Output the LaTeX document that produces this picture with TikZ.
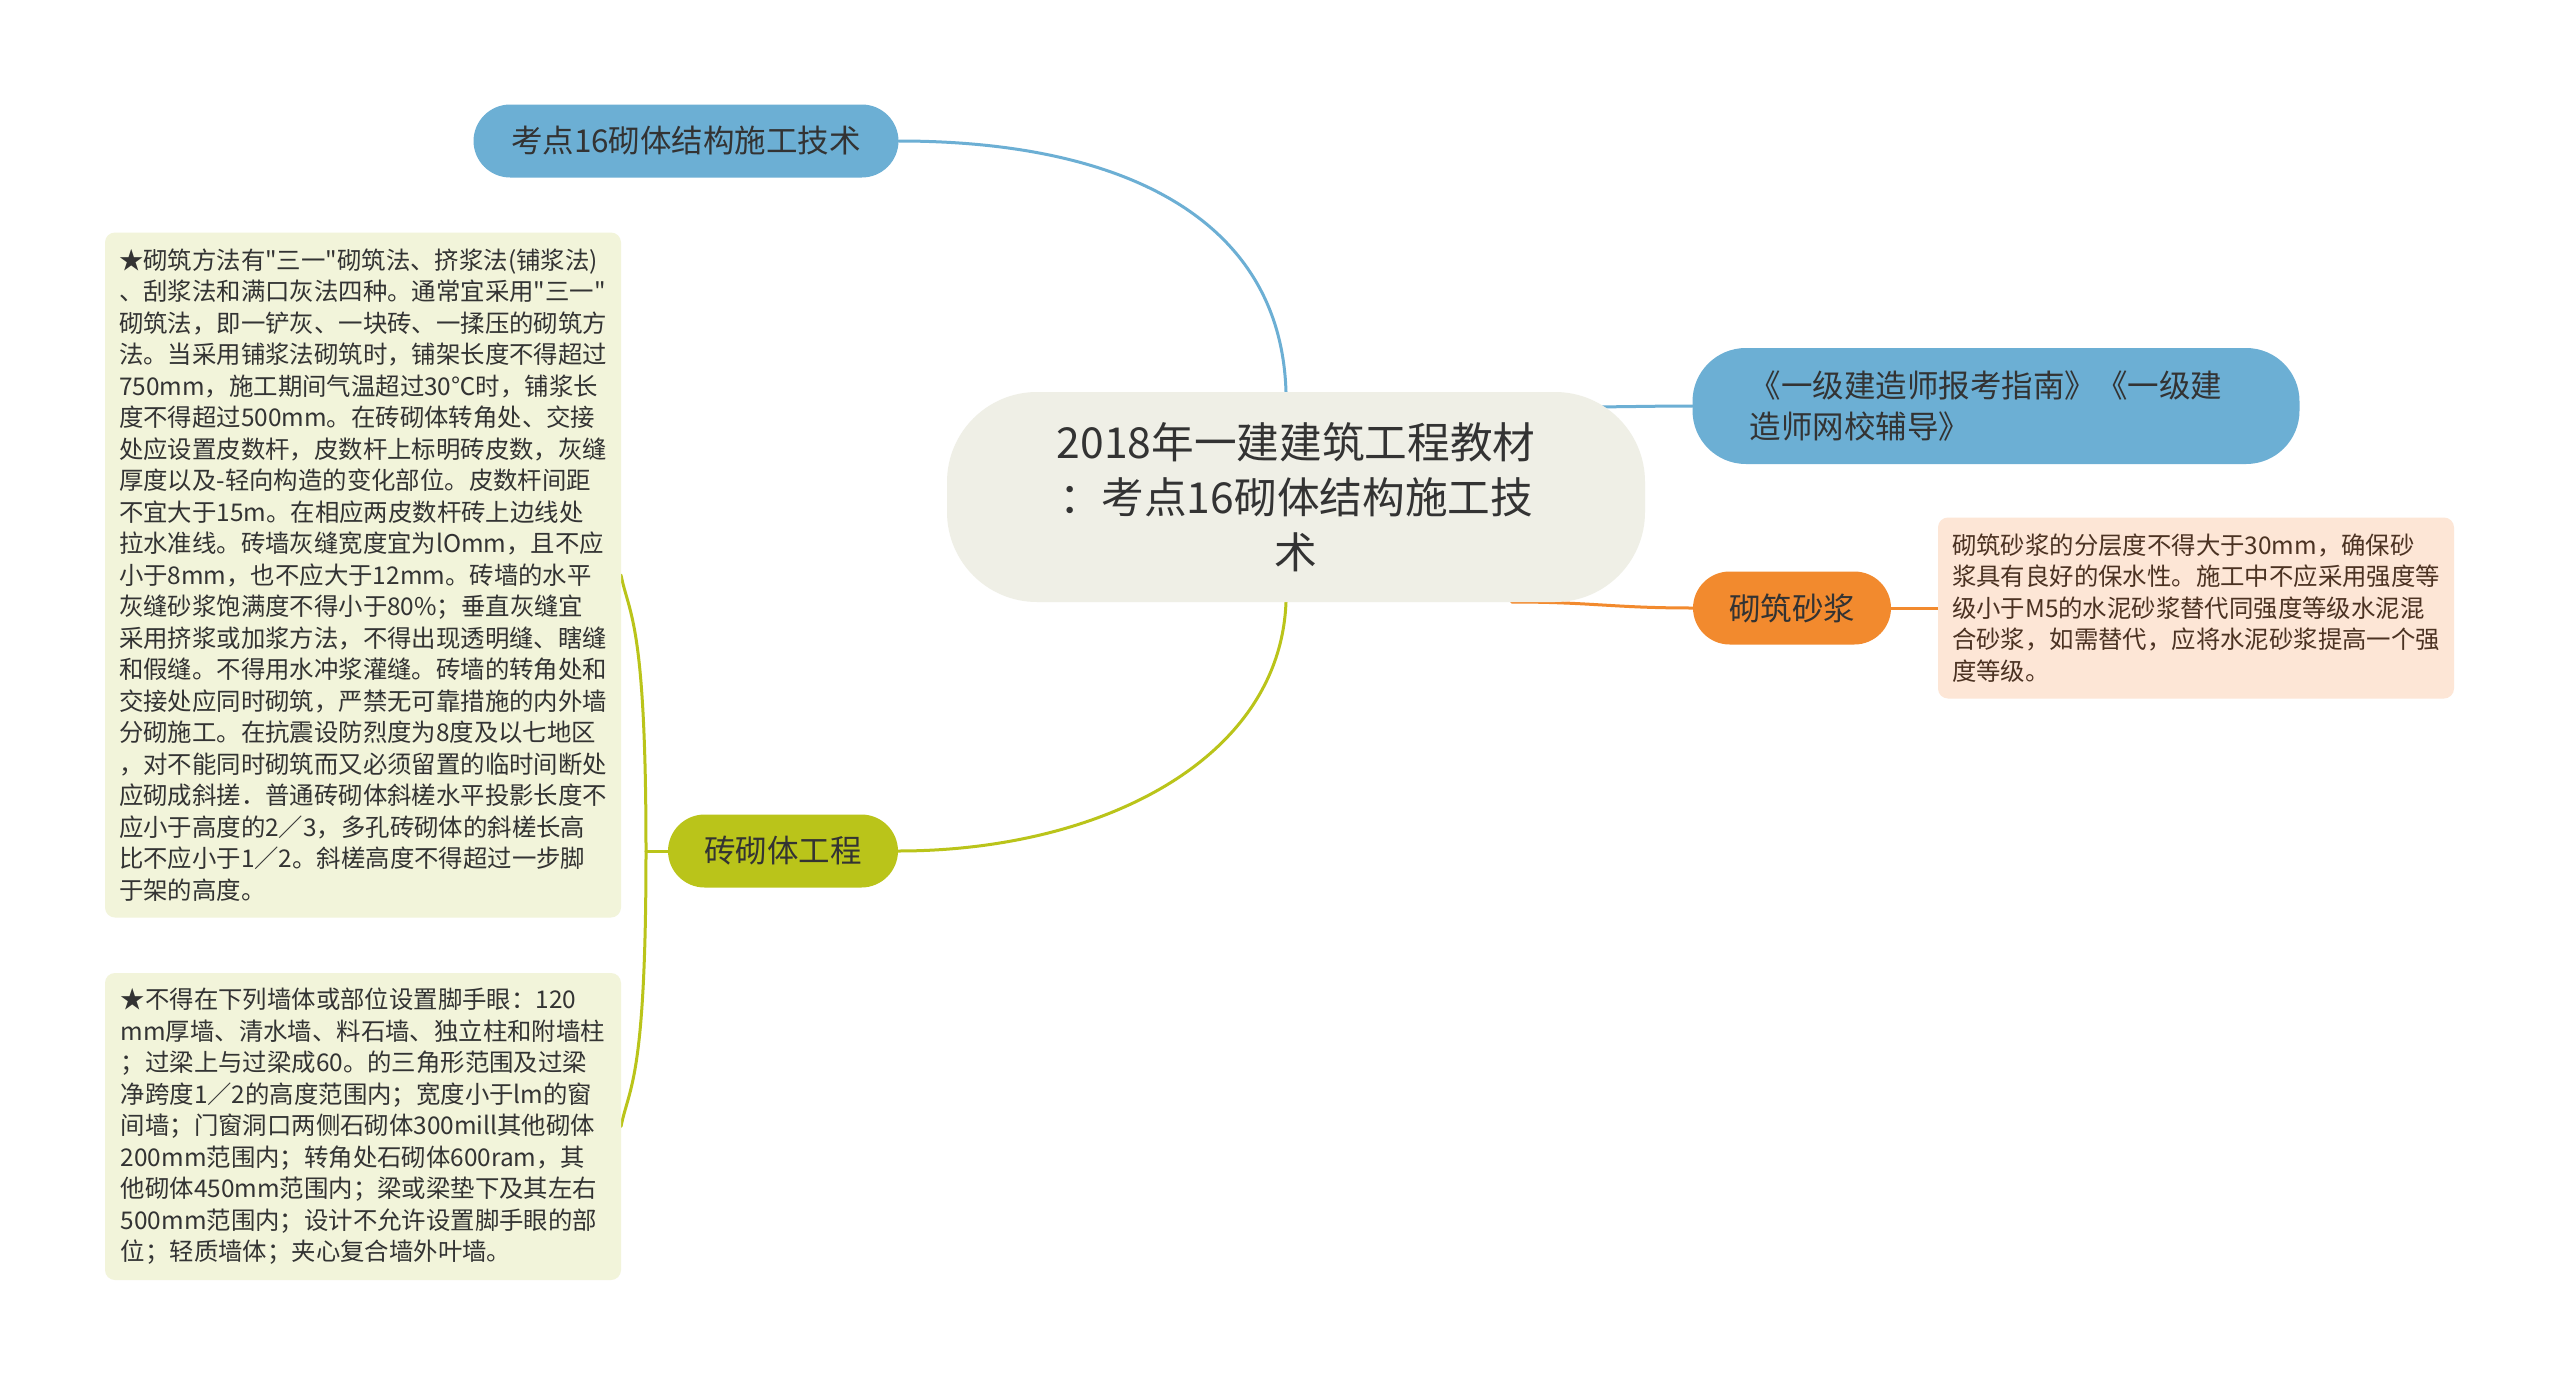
\documentclass[tikz,border=0pt]{standalone}
\usepackage{fontspec}
\newfontfamily\cjk{Noto Sans CJK SC}
\usetikzlibrary{backgrounds}

\definecolor{c6cafd4}{RGB}{108,175,212}
\definecolor{cbac41a}{RGB}{186,196,26}
\definecolor{cf28a2e}{RGB}{242,138,46}
\definecolor{cefefe6}{RGB}{239,239,230}
\definecolor{cf2f4da}{RGB}{242,244,218}
\definecolor{cfde6d6}{RGB}{253,230,214}
\definecolor{c333333}{RGB}{51,51,51}
\definecolor{c4b3222}{RGB}{75,50,34}

\begin{document}
\begin{tikzpicture}[y=0.30pt, x=0.30pt, yscale=-1, inner sep=0pt, outer sep=0pt,
  topicbox/.style={fill=#1, text=c333333, rounded corners=11pt,
    minimum height=21.9pt, font=\cjk\fontsize{9.45}{12.3}\selectfont},
  notebox/.style={fill=#1, rounded corners=3pt, align=left,
    minimum width=154.8pt, font=\cjk\fontsize{7.32}{9.45}\selectfont},
  branch/.style={draw=#1, line width=0.9pt, line cap=round}]
\begin{pgfonlayer}{background}
  \path[fill=white] (0,0) rectangle (2560,1387);
\end{pgfonlayer}
\useasboundingbox (0,0) rectangle (2560,1387);

  \path (1296,497) node[fill=cefefe6, text=c333333, rounded corners=27pt,
    minimum width=209.4pt, minimum height=63pt, align=center,
    font=\cjk\fontsize{12.8}{16.5}\selectfont] (root)
    {2018年一建建筑工程教材\\：考点16砌体结构施工技\\术};
  \path (686,141) node[topicbox=c6cafd4, minimum width=127.5pt] (topic16)
    {考点16砌体结构施工技术};
  \path (1996,406) node[topicbox=c6cafd4, rounded corners=16pt,
    minimum height=34.8pt, text width=147.9pt, inner xsep=17.1pt,
    align=left] (guide) {《一级建造师报考指南》《一级建\\造师网校辅导》};
  \path (1792,608) node[topicbox=cf28a2e, minimum width=59.4pt] (mortar)
    {砌筑砂浆};
  \path (2196,608) node[notebox=cfde6d6, text=c4b3222, minimum height=54.3pt]
    (mortarnote) {砌筑砂浆的分层度不得大于30mm，确保砂\\
    浆具有良好的保水性。施工中不应采用强度等\\
    级小于M5的水泥砂浆替代同强度等级水泥混\\
    合砂浆，如需替代，应将水泥砂浆提高一个强\\
    度等级。};
  \path (783,851) node[topicbox=cbac41a, minimum width=69pt] (brick)
    {砖砌体工程};
  \path (363,575) node[notebox=cf2f4da, text=c333333, minimum height=205.5pt]
    (bricknote1) {★砌筑方法有"三一"砌筑法、挤浆法(铺浆法)\\
    、刮浆法和满口灰法四种。通常宜采用"三一"\\
    砌筑法，即一铲灰、一块砖、一揉压的砌筑方\\
    法。当采用铺浆法砌筑时，铺架长度不得超过\\
    750mm，施工期间气温超过30℃时，铺浆长\\
    度不得超过500mm。在砖砌体转角处、交接\\
    处应设置皮数杆，皮数杆上标明砖皮数，灰缝\\
    厚度以及-轻向构造的变化部位。皮数杆间距\\
    不宜大于15m。在相应两皮数杆砖上边线处\\
    拉水准线。砖墙灰缝宽度宜为lOmm，且不应\\
    小于8mm，也不应大于12mm。砖墙的水平\\
    灰缝砂浆饱满度不得小于80\%；垂直灰缝宜\\
    采用挤浆或加浆方法，不得出现透明缝、瞎缝\\
    和假缝。不得用水冲浆灌缝。砖墙的转角处和\\
    交接处应同时砌筑，严禁无可靠措施的内外墙\\
    分砌施工。在抗震设防烈度为8度及以七地区\\
    ，对不能同时砌筑而又必须留置的临时间断处\\
    应砌成斜搓．普通砖砌体斜槎水平投影长度不\\
    应小于高度的2／3，多孔砖砌体的斜槎长高\\
    比不应小于1／2。斜槎高度不得超过一步脚\\
    于架的高度。};
  \path (363,1126.5) node[notebox=cf2f4da, text=c333333, minimum height=92.1pt]
    (bricknote2) {★不得在下列墙体或部位设置脚手眼：120\\
    mm厚墙、清水墙、料石墙、独立柱和附墙柱\\
    ；过梁上与过梁成60。的三角形范围及过梁\\
    净跨度1／2的高度范围内；宽度小于lm的窗\\
    间墙；门窗洞口两侧石砌体300mill其他砌体\\
    200mm范围内；转角处石砌体600ram，其\\
    他砌体450mm范围内；梁或梁垫下及其左右\\
    500mm范围内；设计不允许设置脚手眼的部\\
    位；轻质墙体；夹心复合墙外叶墙。};

\begin{pgfonlayer}{background}
  \draw[branch=c6cafd4] (topic16.east) .. controls +(230,0) and +(-5,-170) ..
    ([xshift=-3pt]root.north);
  \draw[branch=c6cafd4] ([xshift=-20pt,yshift=4.5pt]root.north east) ..
    controls +(40,0) and +(-40,0) .. (guide.west);
  \draw[branch=cf28a2e] ([xshift=-40pt]root.south east) ..
    controls +(80,0) and +(-80,0) .. (mortar.west);
  \draw[branch=cf28a2e] (mortar.east) -- (mortarnote.west);
  \draw[branch=cbac41a] ([xshift=-3pt]root.south) .. controls +(-6,158) and
    +(202,0) .. (brick.east);
  \draw[branch=cbac41a] (brick.west) -- ++(-22,0) coordinate (brickfork);
  \draw[branch=cbac41a] (brickfork) .. controls +(0,-230) and +(8,40) ..
    (bricknote1.east);
  \draw[branch=cbac41a] (brickfork) .. controls +(0,230) and +(8,-40) ..
    (bricknote2.east);
\end{pgfonlayer}

\end{tikzpicture}
\end{document}
